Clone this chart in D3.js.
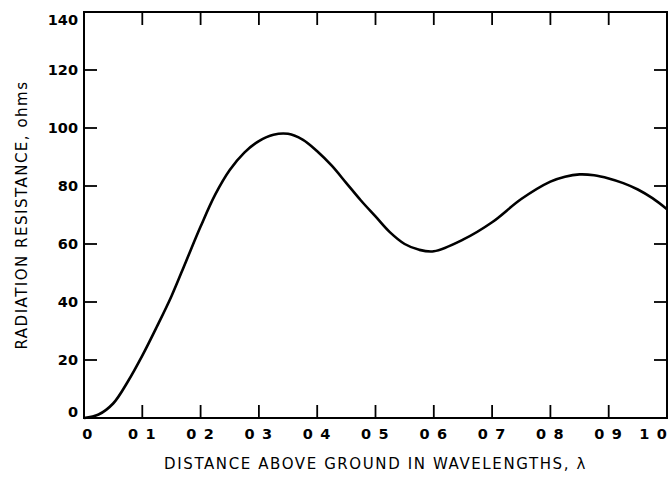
<!DOCTYPE html>
<html><head><meta charset="utf-8">
<script src="https://cdn.jsdelivr.net/npm/d3@7"></script>
<style>body{margin:0;background:#fff}svg{display:block}text{font-family:"DejaVu Sans",sans-serif;fill:#000}</style>
</head><body>
<script>
const heights = [0, 0.025, 0.05, 0.075, 0.1, 0.125, 0.15, 0.175, 0.2, 0.225, 0.25, 0.275, 0.3, 0.325, 0.35, 0.375, 0.4, 0.425, 0.45, 0.475, 0.5, 0.525, 0.55, 0.575, 0.6, 0.65, 0.7, 0.75, 0.8, 0.825, 0.85, 0.875, 0.9, 0.925, 0.95, 0.975, 1.0];
const resistance = [0, 1.2, 5, 12.5, 21.5, 31.5, 42, 54, 66, 77, 85.5, 91.5, 95.5, 97.7, 98, 96, 92, 87, 81, 75, 69.5, 64, 60, 58, 57.5, 61.5, 67.5, 75.5, 81.5, 83.2, 84, 83.7, 82.6, 81, 78.8, 75.8, 72];
const xTicks = [0, 0.1, 0.2, 0.3, 0.4, 0.5, 0.6, 0.7, 0.8, 0.9, 1.0];
const xTickLabels = ["0", "0 1", "0 2", "0 3", "0 4", "0 5", "0 6", "0 7", "0 8", "0 9", "1 0"];
const yTicks = [0, 20, 40, 60, 80, 100, 120, 140];
const yTickLabels = ["0", "20", "40", "60", "80", "100", "120", "140"];
const xTitle = "DISTANCE ABOVE GROUND IN WAVELENGTHS, λ";
const yTitle = "RADIATION RESISTANCE, ohms";

const W = 672, H = 477;
const m = {left: 84, right: 5, top: 12, bottom: 59};
const svg = d3.select("body").append("svg").attr("width", W).attr("height", H);
const x = d3.scaleLinear().domain([0, 1]).range([m.left, W - m.right]);
const y = d3.scaleLinear().domain([0, 140]).range([H - m.bottom, m.top]);

// frame
svg.append("rect").attr("x", x(0)).attr("y", y(140)).attr("width", x(1) - x(0)).attr("height", y(0) - y(140))
  .attr("fill", "none").attr("stroke", "#000").attr("stroke-width", 2);

const tl = 13;
const inner = xTicks.slice(1, -1);
svg.append("g").selectAll("line").data(inner).join("line")
  .attr("x1", d => x(d)).attr("x2", d => x(d)).attr("y1", y(0)).attr("y2", y(0) - tl)
  .attr("stroke", "#000").attr("stroke-width", 1.8);
svg.append("g").selectAll("line").data(inner).join("line")
  .attr("x1", d => x(d)).attr("x2", d => x(d)).attr("y1", y(140)).attr("y2", y(140) + tl)
  .attr("stroke", "#000").attr("stroke-width", 1.8);
const yin = yTicks.slice(1, -1);
svg.append("g").selectAll("line").data(yin).join("line")
  .attr("x1", x(0)).attr("x2", x(0) + tl).attr("y1", d => y(d)).attr("y2", d => y(d))
  .attr("stroke", "#000").attr("stroke-width", 1.8);
svg.append("g").selectAll("line").data(yin).join("line")
  .attr("x1", x(1)).attr("x2", x(1) - tl).attr("y1", d => y(d)).attr("y2", d => y(d))
  .attr("stroke", "#000").attr("stroke-width", 1.8);

// tick labels
const nX = xTicks.length;
svg.append("g").selectAll("text").data(xTicks).join("text")
  .attr("x", (d, i) => x(d) + (i === 0 ? 4 : (i === nX - 1 ? 1 : 0)))
  .attr("y", y(0) + 21)
  .attr("text-anchor", (d, i) => i === nX - 1 ? "end" : "middle")
  .attr("font-size", 14.5).attr("font-weight", "bold").attr("letter-spacing", 1.2)
  .text((d, i) => xTickLabels[i]);
const nY = yTicks.length;
svg.append("g").selectAll("text").data(yTicks).join("text")
  .attr("x", x(0) - 6)
  .attr("y", (d, i) => i === 0 ? y(d) - 1 : (i === nY - 1 ? y(d) + 13 : y(d) + 5))
  .attr("text-anchor", "end").attr("font-size", 14.5).attr("font-weight", "bold")
  .text((d, i) => yTickLabels[i]);

// titles
svg.append("text").attr("x", (x(0) + x(1)) / 2).attr("y", 469).attr("text-anchor", "middle")
  .attr("font-size", 15).attr("letter-spacing", 1.6).text(xTitle);
svg.append("text").attr("transform", `translate(27,${(y(0) + y(140)) / 2}) rotate(-90)`)
  .attr("text-anchor", "middle").attr("font-size", 15).attr("letter-spacing", 1.5).text(yTitle);

// curve
const line = d3.line().x((d, i) => x(heights[i])).y(d => y(d)).curve(d3.curveCatmullRom.alpha(0.5));
svg.append("path").datum(resistance).attr("d", line).attr("fill", "none")
  .attr("stroke", "#000").attr("stroke-width", 2.6).attr("stroke-linejoin", "round");
</script>
</body></html>
